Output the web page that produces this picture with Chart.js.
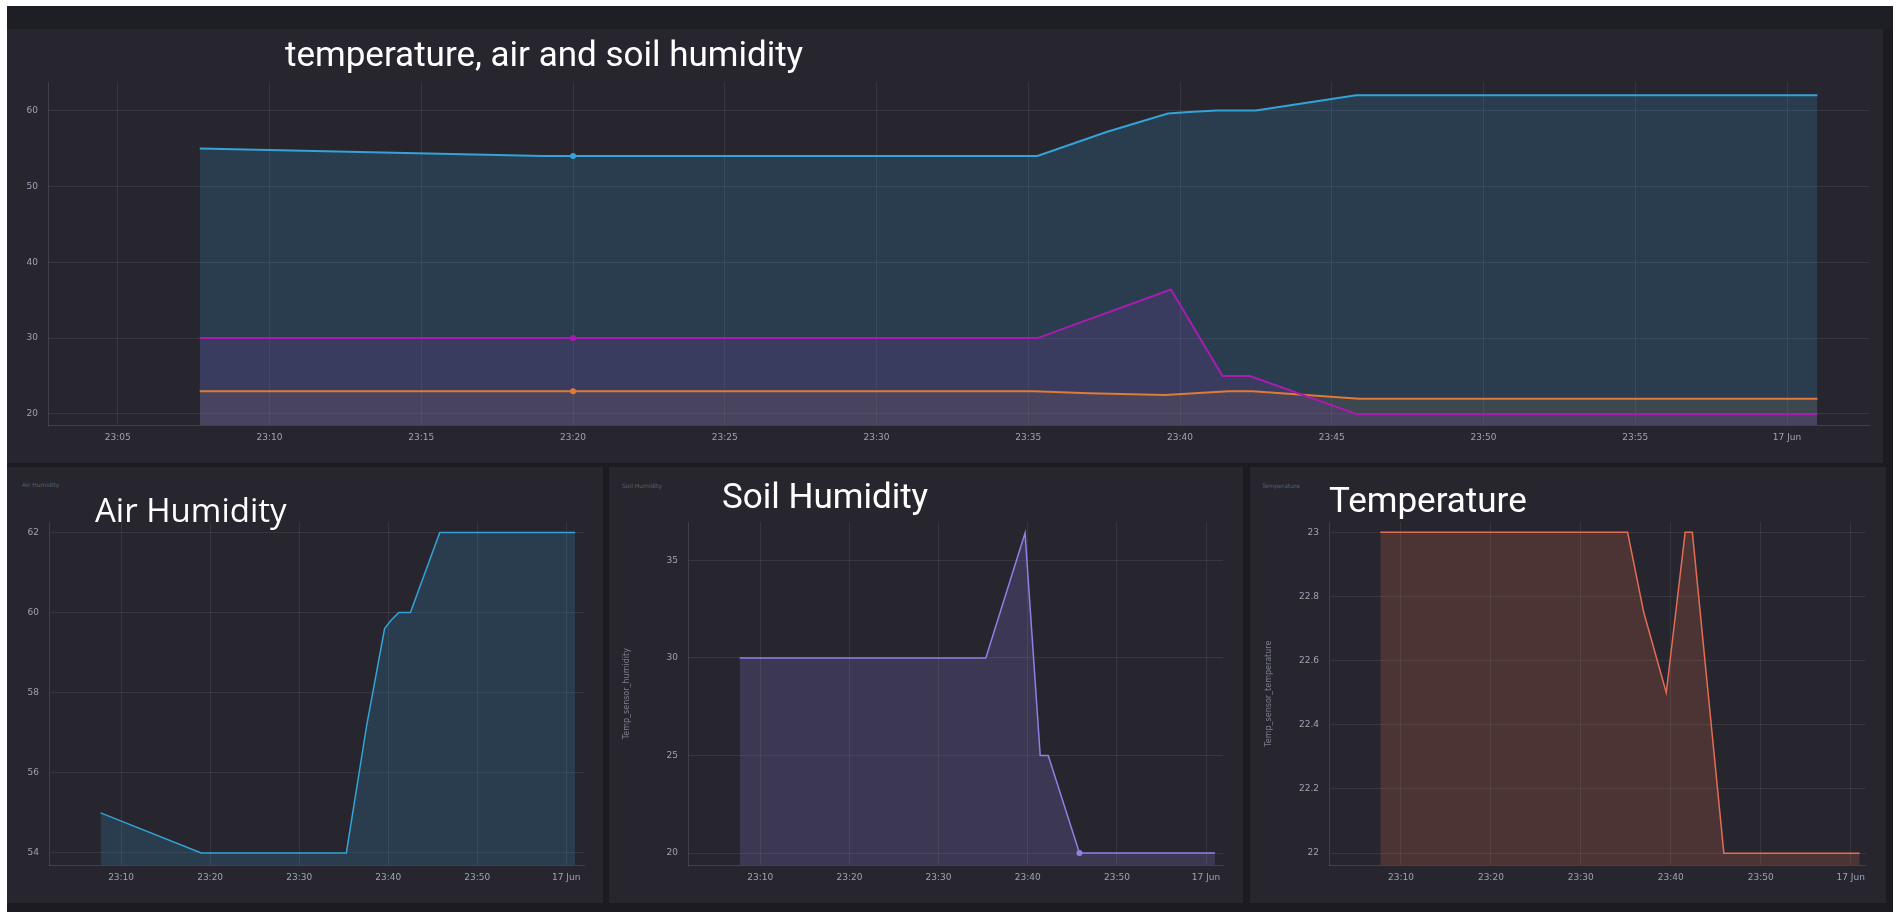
<!DOCTYPE html>
<html>
<head>
<meta charset="utf-8">
<script src="https://cdn.jsdelivr.net/npm/chart.js@4.4.0/dist/chart.umd.min.js"></script>
<style>
  html, body { margin: 0; padding: 0; background: #ffffff; }
  body { width: 1902px; height: 920px; position: relative; overflow: hidden; }
  .frame { position: absolute; left: 7px; top: 6px; width: 1886px; height: 906px; background: #1b1b21; }
  .strip { position: absolute; left: 7px; top: 6px; width: 1886px; height: 23px; background: #1e1e25; }
  .panel { position: absolute; background: #27262f; }
  .box { position: absolute; }
  .title { position: absolute; color: #ffffff; line-height: 1; white-space: nowrap; }
  .small { position: absolute; color: #5d5e6c; font: 6px "DejaVu Sans", sans-serif; white-space: nowrap; }
</style>
</head>
<body>
<div class="frame"></div>
<div class="strip"></div>
<div class="panel" style="left:7px;top:29px;width:1876px;height:434px"></div>
<div class="panel" style="left:7px;top:467px;width:596px;height:436px"></div>
<div class="panel" style="left:609px;top:467px;width:634px;height:436px"></div>
<div class="panel" style="left:1250px;top:467px;width:636px;height:436px"></div>

<div class="box" style="left:8px;top:67px;width:1867px;height:388px"><canvas id="topChart"></canvas></div>
<div class="box" style="left:9px;top:507px;width:581px;height:388px"><canvas id="airChart"></canvas></div>
<div class="box" style="left:612px;top:507px;width:617px;height:388px"><canvas id="soilChart"></canvas></div>
<div class="box" style="left:1254px;top:507px;width:618px;height:388px"><canvas id="tempChart"></canvas></div>

<div class="title" style="left:285px;top:34px;font:35px Roboto, sans-serif">temperature, air and soil humidity</div>
<div class="small" style="left:22px;top:481px">Air Humidity</div>
<div class="title" style="left:95px;top:487px;font:33px 'Open Sans', sans-serif">Air Humidity</div>
<div class="small" style="left:622px;top:482px">Soil Humidity</div>
<div class="title" style="left:722px;top:476px;font:35px Roboto, sans-serif">Soil Humidity</div>
<div class="small" style="left:1262px;top:482px">Temperature</div>
<div class="title" style="left:1329px;top:480px;font:35px Roboto, sans-serif">Temperature</div>

<script>
// minutes after 23:00 (60 = 17 Jun 00:00)
const minutesAir = [7.7, 19.0, 20, 35.3, 37.6, 39.6, 40.3, 41.2, 42.5, 45.8, 61.0];
const airHumidity = [55, 54, 54, 54, 57.2, 59.6, 59.8, 60, 60, 62, 62];

const minutesSoil = [7.7, 20, 35.3, 39.7, 41.4, 42.3, 45.8, 61.0];
const soilHumidity = [30, 30, 30, 36.4, 25, 25, 20, 20];

const minutesTemp = [7.7, 20, 35.2, 37.0, 39.5, 41.6, 42.4, 45.9, 61.0];
const temperature = [23, 23, 23, 22.75, 22.5, 23, 23, 22, 22];

const topXTicks = [5, 10, 15, 20, 25, 30, 35, 40, 45, 50, 55, 60];
const bottomXTicks = [10, 20, 30, 40, 50, 60];
const topYTicks = [20, 30, 40, 50, 60];
const airYTicks = [54, 56, 58, 60, 62];
const soilYTicks = [20, 25, 30, 35];
const tempYTicks = [22, 22.2, 22.4, 22.6, 22.8, 23];

const BLUE = '#33a3d8', PURPLE = '#a81cb0', ORANGE = '#e07a34';
const LAVENDER = '#8f80e6', SALMON = '#e36d52';
const GRID = 'rgba(255,255,255,0.075)';
const TICK = '#9ea3b5';

function pts(xs, ys) { return xs.map((x, i) => ({ x: x, y: ys[i] })); }

function timeLabel(v) {
  if (v === 60) return '17 Jun';
  return '23:' + String(v).padStart(2, '0');
}

function hex2rgba(hex, a) {
  const n = parseInt(hex.slice(1), 16);
  return `rgba(${n >> 16},${(n >> 8) & 255},${n & 255},${a})`;
}

function serie(xs, ys, color, alpha, width, hoverAt) {
  return {
    data: pts(xs, ys),
    borderColor: color,
    backgroundColor: hex2rgba(color, alpha),
    borderWidth: width,
    fill: 'start',
    tension: 0,
    pointRadius: c => (c.raw && c.raw.x === hoverAt ? 3 : 0),
    pointBackgroundColor: color,
    pointBorderWidth: 0
  };
}

function crearGrafico(id, datasets, xr, yr, xTicks, yTicks, yW, yTitle) {
  new Chart(document.getElementById(id), {
    type: 'line',
    data: { datasets: datasets },
    options: {
      responsive: true,
      maintainAspectRatio: false,
      animation: false,
      layout: { padding: { top: 4, right: 6, left: 0, bottom: 0 } },
      plugins: {
        legend: { display: false },
        tooltip: { enabled: false },
        filler: { drawTime: 'beforeDatasetsDraw' }
      },
      scales: {
        x: {
          type: 'linear', min: xr[0], max: xr[1],
          afterBuildTicks: s => { s.ticks = xTicks.map(v => ({ value: v })); },
          afterFit: s => { s.height = 30; },
          grid: { color: GRID, drawTicks: false },
          border: { color: 'rgba(255,255,255,0.12)' },
          ticks: { color: TICK, font: { size: 9, family: 'DejaVu Sans' }, padding: 7, maxRotation: 0, autoSkip: false, callback: v => timeLabel(v) }
        },
        y: {
          min: yr[0], max: yr[1],
          afterBuildTicks: s => { s.ticks = yTicks.map(v => ({ value: v })); },
          afterFit: s => { s.width = yW; },
          grid: { color: GRID, drawTicks: false },
          border: { color: 'rgba(255,255,255,0.12)' },
          title: { display: !!yTitle, text: yTitle || '', color: '#7c7f8e', font: { size: 8, family: 'DejaVu Sans' }, padding: { top: 10, bottom: 4 } },
          ticks: { color: TICK, font: { size: 9, family: 'DejaVu Sans' }, padding: 10, callback: v => String(+v.toFixed(1)) }
        }
      }
    }
  });
}

crearGrafico('topChart', [
  serie(minutesAir, airHumidity, BLUE, 0.19, 2, 20),
  serie(minutesSoil, soilHumidity, PURPLE, 0.15, 2, 20),
  serie(minutesTemp, temperature, ORANGE, 0.13, 2, 20)
], [2.7, 62.7], [18.55, 63.7], topXTicks, topYTicks, 40);

crearGrafico('airChart', [serie(minutesAir, airHumidity, BLUE, 0.19, 1.5, -1)],
  [1.9, 62.0], [53.7, 62.25], bottomXTicks, airYTicks, 40);

crearGrafico('soilChart', [serie(minutesSoil, soilHumidity, LAVENDER, 0.2, 1.5, 45.8)],
  [1.9, 61.9], [19.39, 36.95], bottomXTicks, soilYTicks, 76, 'Temp_sensor_humidity');

crearGrafico('tempChart', [serie(minutesTemp, temperature, SALMON, 0.2, 1.5, -1)],
  [2.0, 61.7], [21.963, 23.031], bottomXTicks, tempYTicks, 75, 'Temp_sensor_temperature');
</script>
</body>
</html>
